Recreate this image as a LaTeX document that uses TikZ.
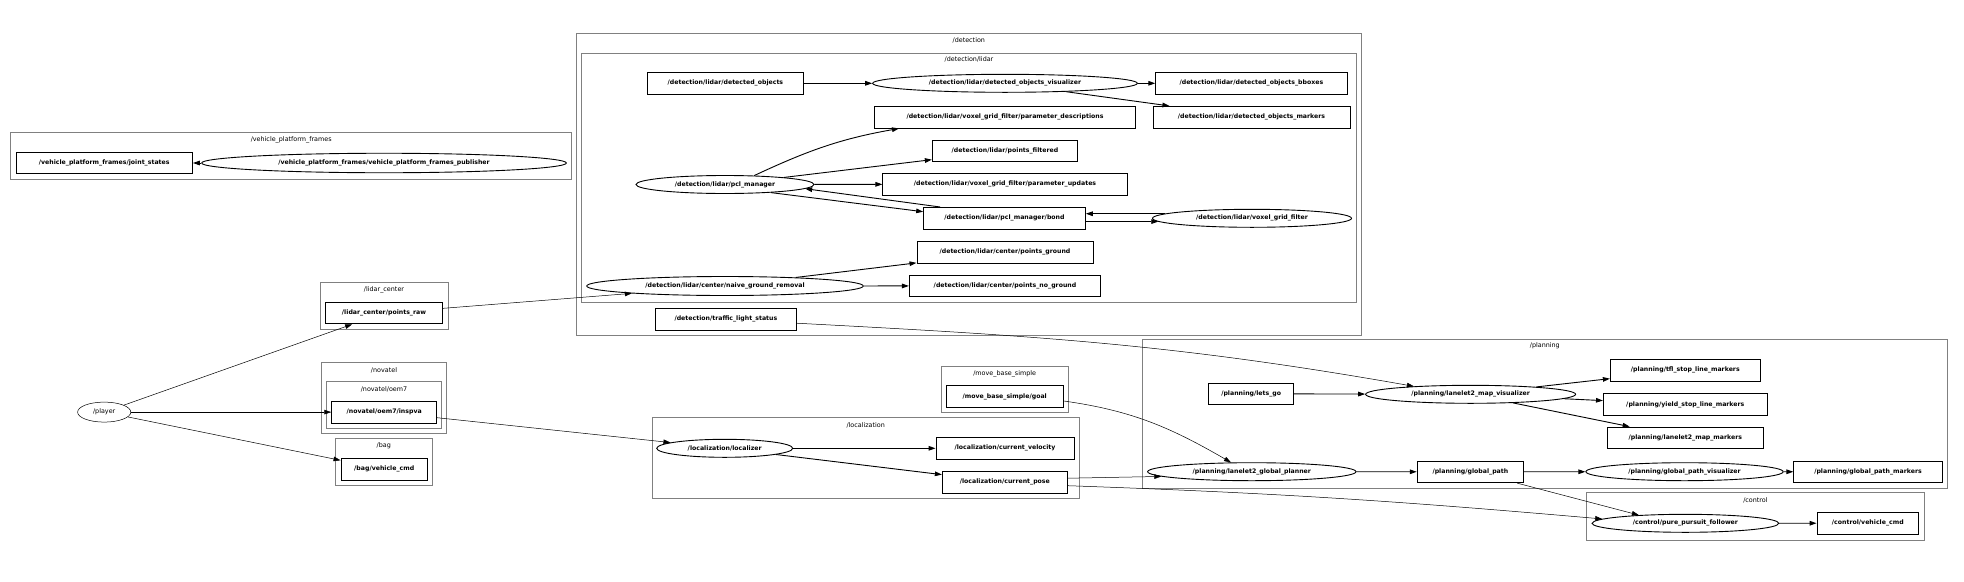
\documentclass[tikz,border=0pt]{standalone}
\usepackage{fontspec}
\setmainfont{DejaVu Sans}
\usetikzlibrary{shapes.geometric,arrows.meta,calc}
\begin{document}
\begin{tikzpicture}[x=1pt,y=-1pt,
  topic/.style={rectangle,draw=black,line width=0.9pt,minimum height=21.7pt,inner sep=0pt,font=\fontsize{6.2}{7}\selectfont\bfseries},
  nd/.style={ellipse,draw=black,line width=0.9pt,minimum height=18pt,inner sep=0pt,font=\fontsize{6.2}{7}\selectfont\bfseries},
  ndthin/.style={ellipse,draw=black,line width=0.5pt,minimum height=20pt,inner sep=0pt,font=\fontsize{6.4}{7}\selectfont},
  clus/.style={draw=black!50,line width=0.7pt},
  ctitle/.style={inner sep=0pt,font=\fontsize{6.4}{7}\selectfont},
  e/.style={draw=black,line width=0.9pt,-{Triangle[length=7pt,width=4.6pt]}},
  et/.style={draw=black,line width=0.5pt,-{Triangle[length=7pt,width=4.6pt]}}
]
\fill[white] (0,0) rectangle (1964,581);
\useasboundingbox (0,0) rectangle (1964,581);

% clusters
\draw[clus] (10.7,132.3) rectangle (571.7,179.3);
\node[ctitle] (tvpf) at (291.2,140) {/vehicle\_platform\_frames};
\draw[clus] (576.6,33.5) rectangle (1361,335);
\node[ctitle] (tdet) at (968.8,40.7) {/detection};
\draw[clus] (581.5,53.3) rectangle (1356.7,302.7);
\node[ctitle] (tdetl) at (969,59.5) {/detection/lidar};
\draw[clus] (320,282.5) rectangle (448,329.3);
\node[ctitle] (tlc) at (384,290) {/lidar\_center};
\draw[clus] (321.4,362.3) rectangle (446.5,433.3);
\node[ctitle] (tnov) at (384,370) {/novatel};
\draw[clus] (326.4,381.3) rectangle (441.6,428.3);
\node[ctitle] (toem) at (384,389) {/novatel/oem7};
\draw[clus] (335.5,438.3) rectangle (432,485.3);
\node[ctitle] (tbag) at (383.8,445.5) {/bag};
\draw[clus] (941,366) rectangle (1068.3,412.7);
\node[ctitle] (tmbs) at (1004.7,373.7) {/move\_base\_simple};
\draw[clus] (652,417.7) rectangle (1079.3,498.3);
\node[ctitle] (tloc) at (865.7,425.3) {/localization};
\draw[clus] (1142,339.3) rectangle (1947.6,488.3);
\node[ctitle] (tplan) at (1544.8,345.7) {/planning};
\draw[clus] (1586.3,492.3) rectangle (1924.4,540);
\node[ctitle] (tctl) at (1755.4,500.7) {/control};

% nodes
\node[topic,minimum width=176.5pt] (js) at (104.2,163) {/vehicle\_platform\_frames/joint\_states};
\node[nd,minimum width=364.7pt,minimum height=19.5pt] (pub) at (384,163) {/vehicle\_platform\_frames/vehicle\_platform\_frames\_publisher};
\node[ndthin,minimum width=53.2pt] (player) at (104.2,412.1) {/player};
\node[topic,minimum width=117.5pt] (pr) at (384,313) {/lidar\_center/points\_raw};
\node[topic,minimum width=105pt] (inspva) at (384.2,412.1) {/novatel/oem7/inspva};
\node[topic,minimum width=86.4pt] (bagcmd) at (384.2,469.2) {/bag/vehicle\_cmd};

\node[topic,minimum width=155.6pt] (do) at (725.4,83.3) {/detection/lidar/detected\_objects};
\node[nd,minimum width=264.7pt] (dov) at (1005,83.3) {/detection/lidar/detected\_objects\_visualizer};
\node[topic,minimum width=191.3pt] (bb) at (1251.4,83.3) {/detection/lidar/detected\_objects\_bboxes};
\node[topic,minimum width=197pt] (mk) at (1251.5,117.2) {/detection/lidar/detected\_objects\_markers};
\node[topic,minimum width=260.7pt] (pd) at (1005,117.2) {/detection/lidar/voxel\_grid\_filter/parameter\_descriptions};
\node[topic,minimum width=145.4pt] (pf) at (1005,150.9) {/detection/lidar/points\_filtered};
\node[topic,minimum width=244.2pt] (pu) at (1005,184.2) {/detection/lidar/voxel\_grid\_filter/parameter\_updates};
\node[nd,minimum width=178pt] (pcl) at (725,184.5) {/detection/lidar/pcl\_manager};
\node[topic,minimum width=161.7pt] (bond) at (1004.5,218.3) {/detection/lidar/pcl\_manager/bond};
\node[nd,minimum width=199pt] (vgf) at (1252,218.3) {/detection/lidar/voxel\_grid\_filter};
\node[topic,minimum width=176pt] (pg) at (1005,252.2) {/detection/lidar/center/points\_ground};
\node[topic,minimum width=191.3pt] (png) at (1005,285.9) {/detection/lidar/center/points\_no\_ground};
\node[nd,minimum width=276.6pt,minimum height=19pt] (naive) at (725,286) {/detection/lidar/center/naive\_ground\_removal};
\node[topic,minimum width=140.3pt] (tls) at (725.9,319.2) {/detection/traffic\_light\_status};

\node[topic,minimum width=85.1pt] (lg) at (1251.2,393.8) {/planning/lets\_go};
\node[nd,minimum width=210pt] (lmv) at (1470.6,394.3) {/planning/lanelet2\_map\_visualizer};
\node[topic,minimum width=150pt] (tfl) at (1685.3,370.2) {/planning/tfl\_stop\_line\_markers};
\node[topic,minimum width=163.8pt] (ysl) at (1685.3,404.5) {/planning/yield\_stop\_line\_markers};
\node[topic,minimum width=155.3pt] (l2mm) at (1685.3,437.9) {/planning/lanelet2\_map\_markers};
\node[nd,minimum width=208.4pt] (pln) at (1251.8,471.7) {/planning/lanelet2\_global\_planner};
\node[topic,minimum width=106.4pt] (gp) at (1470.4,471.8) {/planning/global\_path};
\node[nd,minimum width=197.3pt] (gpv) at (1684.5,471.7) {/planning/global\_path\_visualizer};
\node[topic,minimum width=148.4pt] (gpm) at (1868,471.8) {/planning/global\_path\_markers};

\node[topic,minimum width=117.3pt] (goal) at (1004.7,396.7) {/move\_base\_simple/goal};
\node[nd,minimum width=136pt] (loc) at (724.7,448.3) {/localization/localizer};
\node[topic,minimum width=138pt] (cv) at (1005,448.3) {/localization/current\_velocity};
\node[topic,minimum width=125pt] (cp) at (1004.8,482.2) {/localization/current\_pose};
\node[nd,minimum width=186.7pt] (pp) at (1685.4,523.3) {/control/pure\_pursuit\_follower};
\node[topic,minimum width=101.6pt] (vcmd) at (1867.8,523.2) {/control/vehicle\_cmd};

% edges
\draw[e] (pub) -- (js);
\draw[et] (player) -- (pr);
\draw[et] (player) -- (inspva);
\draw[et] (player) -- (bagcmd);
\draw[et] (pr) -- (naive);
\draw[et] (inspva) -- (loc);
\draw[e] (do) -- (dov);
\draw[e] (dov) -- (bb);
\draw[e] (dov) -- (mk);
\draw[e] (pcl.17) to[out=25,in=190] ([xshift=-106pt]pd.south);
\draw[e] (pcl) -- (pf);
\draw[e] (pcl) -- (pu);
\draw[e] ([xshift=17pt]bond.north west) -- (pcl.357);
\draw[e] (pcl.350.5) -- ([yshift=6.6pt]bond.west);
\draw[e] (vgf.177.5) -- (bond.east |- vgf.177.5);
\draw[e] (bond.east |- vgf.182.5) -- (vgf.182.5);
\draw[e] (naive) -- (pg);
\draw[e] (naive) -- (png);
\draw[et] ([yshift=-4pt]tls.east) to[out=-3,in=170] (lmv.172);
\draw[e] (lg) -- (lmv);
\draw[e] (lmv) -- (tfl);
\draw[e] (lmv) -- (ysl);
\draw[e] (lmv) -- (l2mm);
\draw[et] ([yshift=-4.3pt]goal.east) to[out=-8,in=150] (pln.156);
\draw[et] ([yshift=4pt]cp.east) -- (pln.183);
\draw[et] ([yshift=-3.5pt]cp.east) to[out=-2,in=175] (pp.177);
\draw[et] ([xshift=-7pt]gp.south east) -- (pp.170);
\draw[e] (pln) -- (gp);
\draw[e] (gp) -- (gpv);
\draw[e] (gpv) -- (gpm);
\draw[e] (pp) -- (vcmd);
\draw[e] (loc) -- (cv);
\draw[e] (loc) -- (cp);
\end{tikzpicture}
\end{document}
